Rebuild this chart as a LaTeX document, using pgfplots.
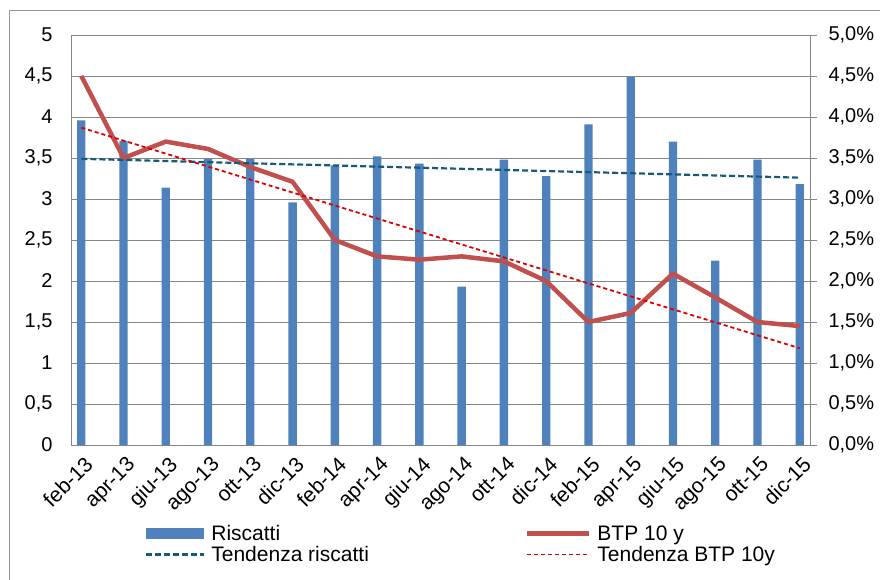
\documentclass[border=0pt]{standalone}
\usepackage{pgfplots}
\pgfplotsset{compat=1.18}
\usepackage{fontspec}
\setmainfont{Liberation Sans}
\definecolor{barblue}{RGB}{79,129,189}
\definecolor{btpred}{RGB}{192,80,77}
\definecolor{teal1}{RGB}{22,90,120}
\definecolor{trendred}{RGB}{220,0,0}
\definecolor{gridgray}{RGB}{134,134,134}
\definecolor{framegray}{RGB}{150,150,150}
\pgfplotsset{
  barleg/.style={legend image code/.code={\fill[barblue] (0pt,-5.5pt) rectangle (58pt,5.5pt);}},
  lineleg/.style={legend image code/.code={\draw[##1] (0pt,0pt) -- (#1,0pt);}},
}
\pgfplotstableread{
x bars btp
0 3.96 4.50
1 3.71 3.50
2 3.14 3.70
3 3.49 3.61
4 3.49 3.39
5 2.96 3.21
6 3.41 2.50
7 3.52 2.30
8 3.43 2.26
9 1.93 2.30
10 3.48 2.24
11 3.28 2.00
12 3.91 1.50
13 4.49 1.61
14 3.70 2.09
15 2.25 1.80
16 3.48 1.50
17 3.18 1.45
}\datatable
\begin{document}
\begin{tikzpicture}[x=1pt,y=1pt]
\useasboundingbox (-71,-134) rectangle (809,445);
\draw[framegray, line width=0.8pt] (-62,-140) -- (-62,435) -- (815,435);
\begin{axis}[
  at={(0pt,0pt)}, anchor=south west,
  scale only axis, width=739pt, height=410pt,
  xmin=-0.244, xmax=17.244, ymin=0, ymax=5,
  axis line style={gridgray, line width=0.8pt},
  ymajorgrids, grid style={gridgray, line width=0.8pt},
  ytick={0,0.5,...,5},
  yticklabels={0,{0,5},1,{1,5},2,{2,5},3,{3,5},4,{4,5},5},
  xtick={0,...,17},
  xticklabels={feb-13,apr-13,giu-13,ago-13,ott-13,dic-13,feb-14,apr-14,giu-14,ago-14,ott-14,dic-14,feb-15,apr-15,giu-15,ago-15,ott-15,dic-15},
  major tick length=0pt,
  yticklabel style={font=\fontsize{20}{23}\selectfont, xshift=-15pt},
  xticklabel style={font=\fontsize{21}{24}\selectfont, xshift=2pt, yshift=-10pt, rotate=45, anchor=north east, inner sep=0pt},
  /pgf/number format/assume math mode=true,
  legend columns=2,
  legend cell align=left,
  legend style={draw=none, fill=none, at={(0.1001,-0.193)}, anchor=north west,
    font=\fontsize{21}{24}\selectfont, inner sep=0pt, row sep=2pt,
    nodes={inner sep=1pt},
    /tikz/every even column/.append style={column sep=155pt},
    /tikz/every odd column/.append style={column sep=5pt}},
]
\addplot[ybar, bar width=8.3pt, fill=barblue, draw=none, barleg]
  table[x=x, y=bars] {\datatable};
\addlegendentry{Riscatti}
\addplot[btpred, line width=4.5pt, line join=round, lineleg=62pt]
  table[x=x, y=btp] {\datatable};
\addlegendentry{BTP 10 y}
\addplot[teal1, line width=2.2pt, dash pattern=on 6pt off 3pt, lineleg=58pt]
  coordinates {(0,3.49) (17,3.26)};
\addlegendentry{Tendenza riscatti}
\addplot[trendred, line width=1.8pt, dash pattern=on 4pt off 3pt, lineleg=62pt]
  coordinates {(0,3.87) (17,1.18)};
\addlegendentry{Tendenza BTP 10y}
\end{axis}
\begin{axis}[
  at={(0pt,0pt)}, anchor=south west,
  scale only axis, width=739pt, height=410pt,
  xmin=-0.244, xmax=17.244, ymin=0, ymax=5,
  axis x line=none,
  axis y line*=right,
  axis line style={gridgray, line width=0.8pt, -},
  ytick={0,0.5,...,5},
  yticklabels={{0,0\%},{0,5\%},{1,0\%},{1,5\%},{2,0\%},{2,5\%},{3,0\%},{3,5\%},{4,0\%},{4,5\%},{5,0\%}},
  tick align=outside, major tick length=7pt,
  ytick style={gridgray, line width=0.8pt},
  yticklabel style={font=\fontsize{20}{23}\selectfont, xshift=8pt},
  /pgf/number format/assume math mode=true,
]
\end{axis}
\end{tikzpicture}
\end{document}
